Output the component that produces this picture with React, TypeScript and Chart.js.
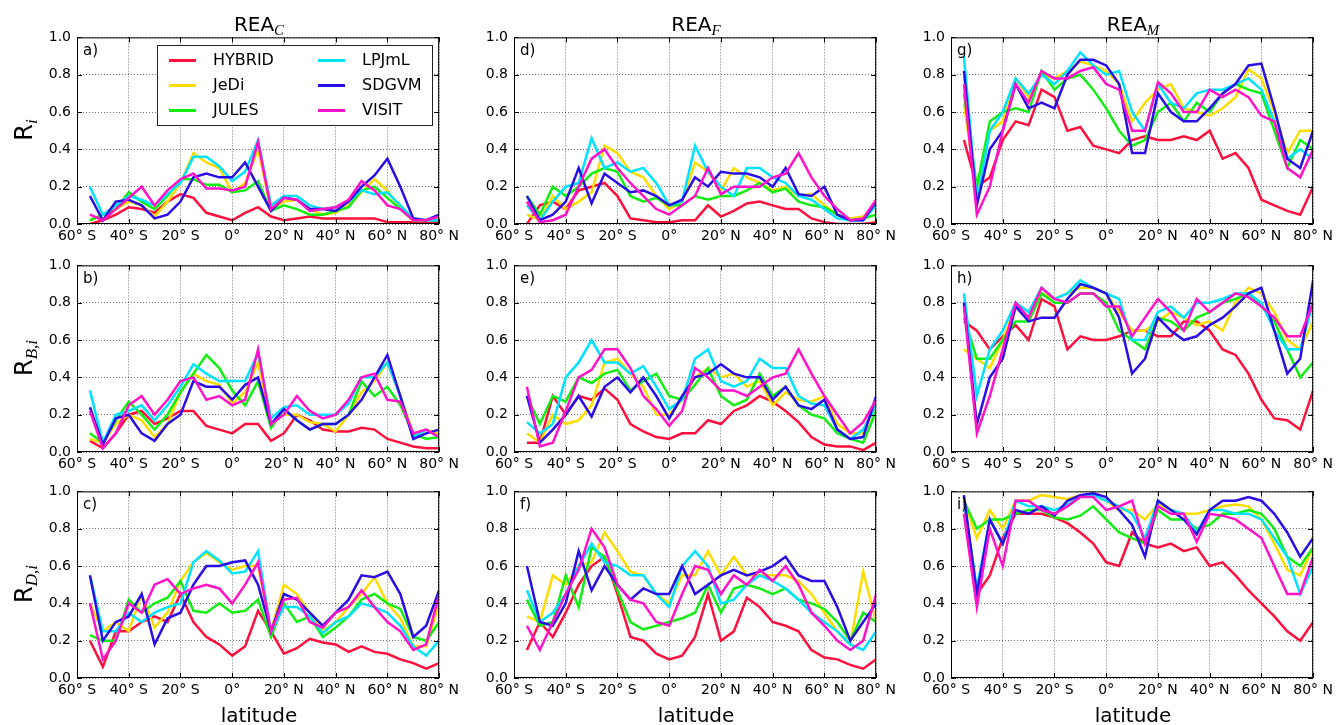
import React, { useEffect, useRef } from "react";
import { Chart, registerables } from "chart.js";

Chart.register(...registerables);

// ---------- data ----------
const latitudes = [-55, -50, -45, -40, -35, -30, -25, -20, -15, -10, -5, 0, 5, 10, 15, 20, 25, 30, 35, 40, 45, 50, 55, 60, 65, 70, 75, 80];
const modelNames = ["HYBRID", "JeDi", "JULES", "LPJmL", "SDGVM", "VISIT"];
const modelColors = ["#ff0f3c", "#ffdc00", "#12ee12", "#00e2ff", "#2a0ee6", "#ff12c8"];
const xTickValues = [-60, -40, -20, 0, 20, 40, 60, 80];
const yTickValues = [0, 0.2, 0.4, 0.6, 0.8, 1.0];
const columnTitleSubs = ["C", "F", "M"];
const rowLabelSubs = ["i", "B,i", "D,i"];
const panelLetters = ["a)", "b)", "c)", "d)", "e)", "f)", "g)", "h)", "i)"];

// panel a
const aHYBRID = [0.0, 0.02, 0.05, 0.09, 0.08, 0.06, 0.12, 0.16, 0.14, 0.06, 0.04, 0.02, 0.06, 0.09, 0.04, 0.02, 0.03, 0.04, 0.03, 0.03, 0.03, 0.03, 0.03, 0.01, 0.01, 0.01, 0.005, 0.01];
const aJeDi = [0.02, 0.05, 0.08, 0.12, 0.1, 0.04, 0.12, 0.22, 0.38, 0.33, 0.3, 0.17, 0.22, 0.4, 0.08, 0.12, 0.13, 0.08, 0.05, 0.06, 0.1, 0.17, 0.24, 0.18, 0.08, 0.02, 0.02, 0.03];
const aJULES = [0.02, 0.05, 0.08, 0.17, 0.12, 0.08, 0.15, 0.24, 0.24, 0.21, 0.21, 0.17, 0.18, 0.23, 0.07, 0.1, 0.08, 0.05, 0.05, 0.07, 0.09, 0.18, 0.2, 0.14, 0.08, 0.02, 0.02, 0.02];
const aLPJmL = [0.2, 0.05, 0.1, 0.15, 0.13, 0.1, 0.16, 0.22, 0.36, 0.36, 0.31, 0.23, 0.28, 0.45, 0.1, 0.15, 0.15, 0.1, 0.08, 0.09, 0.12, 0.18, 0.16, 0.17, 0.1, 0.03, 0.02, 0.02];
const aSDGVM = [0.15, 0.02, 0.12, 0.13, 0.1, 0.03, 0.05, 0.12, 0.25, 0.27, 0.25, 0.25, 0.33, 0.2, 0.07, 0.14, 0.13, 0.08, 0.08, 0.07, 0.12, 0.2, 0.26, 0.35, 0.2, 0.03, 0.02, 0.05];
const aVISIT = [0.05, 0.02, 0.08, 0.14, 0.2, 0.1, 0.18, 0.24, 0.27, 0.19, 0.19, 0.18, 0.2, 0.44, 0.08, 0.14, 0.13, 0.07, 0.08, 0.09, 0.13, 0.23, 0.18, 0.1, 0.08, 0.02, 0.02, 0.04];

// panel b
const bHYBRID = [0.06, 0.02, 0.1, 0.2, 0.22, 0.15, 0.18, 0.22, 0.22, 0.14, 0.12, 0.1, 0.15, 0.15, 0.06, 0.1, 0.2, 0.17, 0.12, 0.11, 0.11, 0.13, 0.12, 0.07, 0.05, 0.03, 0.02, 0.02];
const bJeDi = [0.07, 0.05, 0.15, 0.2, 0.17, 0.08, 0.15, 0.32, 0.42, 0.38, 0.36, 0.26, 0.32, 0.48, 0.15, 0.2, 0.2, 0.16, 0.15, 0.11, 0.2, 0.32, 0.38, 0.48, 0.3, 0.1, 0.12, 0.1];
const bJULES = [0.1, 0.05, 0.17, 0.27, 0.2, 0.12, 0.2, 0.32, 0.42, 0.52, 0.45, 0.33, 0.25, 0.38, 0.13, 0.23, 0.17, 0.12, 0.15, 0.15, 0.2, 0.38, 0.3, 0.35, 0.25, 0.1, 0.07, 0.08];
const bLPJmL = [0.33, 0.05, 0.2, 0.22, 0.25, 0.17, 0.25, 0.35, 0.47, 0.42, 0.38, 0.38, 0.38, 0.53, 0.18, 0.24, 0.25, 0.2, 0.2, 0.2, 0.26, 0.4, 0.4, 0.48, 0.3, 0.08, 0.12, 0.08];
const bSDGVM = [0.24, 0.04, 0.18, 0.2, 0.1, 0.06, 0.15, 0.2, 0.38, 0.35, 0.35, 0.28, 0.36, 0.4, 0.15, 0.23, 0.17, 0.12, 0.15, 0.15, 0.2, 0.28, 0.4, 0.52, 0.3, 0.07, 0.1, 0.12];
const bVISIT = [0.22, 0.02, 0.1, 0.25, 0.3, 0.2, 0.28, 0.38, 0.4, 0.28, 0.3, 0.25, 0.28, 0.55, 0.15, 0.2, 0.3, 0.22, 0.18, 0.2, 0.28, 0.4, 0.42, 0.28, 0.27, 0.1, 0.12, 0.08];

// panel c
const cHYBRID = [0.2, 0.06, 0.25, 0.25, 0.3, 0.33, 0.3, 0.45, 0.3, 0.22, 0.18, 0.12, 0.17, 0.36, 0.25, 0.13, 0.16, 0.21, 0.19, 0.18, 0.14, 0.17, 0.14, 0.13, 0.1, 0.08, 0.05, 0.08];
const cJeDi = [0.4, 0.25, 0.3, 0.25, 0.45, 0.27, 0.35, 0.52, 0.62, 0.67, 0.62, 0.58, 0.6, 0.6, 0.25, 0.5, 0.45, 0.35, 0.25, 0.3, 0.38, 0.45, 0.54, 0.4, 0.32, 0.17, 0.17, 0.4];
const cJULES = [0.23, 0.2, 0.2, 0.42, 0.35, 0.4, 0.43, 0.52, 0.36, 0.35, 0.4, 0.35, 0.36, 0.42, 0.22, 0.4, 0.3, 0.33, 0.22, 0.27, 0.33, 0.42, 0.45, 0.4, 0.37, 0.22, 0.2, 0.3];
const cLPJmL = [0.55, 0.25, 0.25, 0.35, 0.3, 0.35, 0.38, 0.4, 0.62, 0.68, 0.63, 0.56, 0.57, 0.68, 0.25, 0.38, 0.38, 0.33, 0.24, 0.3, 0.33, 0.4, 0.38, 0.35, 0.28, 0.17, 0.12, 0.2];
const cSDGVM = [0.55, 0.2, 0.3, 0.33, 0.45, 0.18, 0.32, 0.35, 0.5, 0.6, 0.6, 0.62, 0.63, 0.5, 0.25, 0.45, 0.42, 0.35, 0.28, 0.35, 0.42, 0.55, 0.54, 0.57, 0.45, 0.22, 0.28, 0.47];
const cVISIT = [0.4, 0.1, 0.2, 0.4, 0.35, 0.5, 0.53, 0.45, 0.48, 0.5, 0.48, 0.4, 0.5, 0.62, 0.25, 0.42, 0.43, 0.3, 0.27, 0.35, 0.38, 0.47, 0.38, 0.3, 0.25, 0.15, 0.18, 0.45];

// panel d
const dHYBRID = [0.0, 0.1, 0.12, 0.08, 0.18, 0.2, 0.22, 0.15, 0.03, 0.02, 0.01, 0.01, 0.02, 0.02, 0.1, 0.04, 0.07, 0.11, 0.12, 0.1, 0.08, 0.08, 0.03, 0.01, 0.0, 0.0, 0.0, 0.01];
const dJeDi = [0.05, 0.02, 0.15, 0.08, 0.12, 0.17, 0.42, 0.38, 0.28, 0.25, 0.15, 0.08, 0.12, 0.33, 0.28, 0.18, 0.3, 0.25, 0.22, 0.18, 0.2, 0.15, 0.16, 0.1, 0.05, 0.03, 0.04, 0.1];
const dJULES = [0.15, 0.05, 0.2, 0.15, 0.2, 0.27, 0.3, 0.28, 0.15, 0.12, 0.14, 0.1, 0.1, 0.15, 0.13, 0.15, 0.15, 0.18, 0.22, 0.17, 0.19, 0.12, 0.1, 0.09, 0.05, 0.02, 0.03, 0.05];
const dLPJmL = [0.1, 0.02, 0.12, 0.2, 0.22, 0.46, 0.3, 0.33, 0.28, 0.3, 0.22, 0.1, 0.12, 0.42, 0.28, 0.2, 0.15, 0.3, 0.3, 0.25, 0.22, 0.15, 0.13, 0.08, 0.03, 0.02, 0.02, 0.1];
const dSDGVM = [0.15, 0.02, 0.05, 0.12, 0.3, 0.11, 0.27, 0.22, 0.17, 0.18, 0.15, 0.1, 0.13, 0.25, 0.2, 0.28, 0.27, 0.27, 0.25, 0.2, 0.3, 0.16, 0.15, 0.2, 0.05, 0.02, 0.02, 0.12];
const dVISIT = [0.12, 0.01, 0.02, 0.05, 0.2, 0.35, 0.4, 0.3, 0.22, 0.15, 0.08, 0.05, 0.1, 0.15, 0.3, 0.16, 0.2, 0.2, 0.2, 0.25, 0.27, 0.38, 0.25, 0.15, 0.08, 0.02, 0.03, 0.13];

// panel e
const eHYBRID = [0.05, 0.05, 0.3, 0.2, 0.3, 0.28, 0.34, 0.28, 0.15, 0.11, 0.08, 0.07, 0.1, 0.1, 0.17, 0.15, 0.22, 0.25, 0.3, 0.27, 0.22, 0.16, 0.08, 0.04, 0.03, 0.03, 0.01, 0.05];
const eJeDi = [0.1, 0.05, 0.2, 0.15, 0.17, 0.25, 0.48, 0.5, 0.42, 0.35, 0.2, 0.2, 0.28, 0.4, 0.45, 0.4, 0.42, 0.35, 0.38, 0.25, 0.32, 0.28, 0.27, 0.3, 0.15, 0.1, 0.1, 0.25];
const eJULES = [0.3, 0.15, 0.3, 0.27, 0.4, 0.37, 0.42, 0.44, 0.33, 0.38, 0.42, 0.3, 0.28, 0.36, 0.45, 0.3, 0.25, 0.28, 0.42, 0.3, 0.35, 0.25, 0.2, 0.18, 0.1, 0.07, 0.05, 0.22];
const eLPJmL = [0.16, 0.1, 0.15, 0.4, 0.48, 0.6, 0.48, 0.48, 0.42, 0.46, 0.35, 0.23, 0.28, 0.5, 0.55, 0.38, 0.35, 0.38, 0.5, 0.45, 0.45, 0.3, 0.26, 0.25, 0.12, 0.07, 0.12, 0.25];
const eSDGVM = [0.3, 0.05, 0.12, 0.2, 0.3, 0.19, 0.35, 0.4, 0.32, 0.4, 0.3, 0.18, 0.3, 0.4, 0.42, 0.47, 0.42, 0.4, 0.4, 0.28, 0.35, 0.25, 0.23, 0.28, 0.12, 0.07, 0.08, 0.3];
const eVISIT = [0.35, 0.03, 0.05, 0.22, 0.4, 0.44, 0.55, 0.55, 0.45, 0.3, 0.23, 0.14, 0.22, 0.45, 0.4, 0.33, 0.33, 0.3, 0.35, 0.4, 0.42, 0.55, 0.42, 0.3, 0.2, 0.1, 0.16, 0.28];

// panel f
const fHYBRID = [0.15, 0.3, 0.22, 0.35, 0.5, 0.6, 0.65, 0.45, 0.22, 0.2, 0.13, 0.1, 0.12, 0.22, 0.45, 0.2, 0.25, 0.43, 0.38, 0.3, 0.28, 0.25, 0.15, 0.11, 0.1, 0.07, 0.05, 0.1];
const fJeDi = [0.33, 0.3, 0.55, 0.5, 0.6, 0.62, 0.78, 0.68, 0.57, 0.55, 0.45, 0.4, 0.55, 0.55, 0.68, 0.55, 0.65, 0.55, 0.55, 0.55, 0.55, 0.52, 0.45, 0.35, 0.25, 0.18, 0.57, 0.3];
const fJULES = [0.42, 0.28, 0.3, 0.55, 0.38, 0.7, 0.65, 0.47, 0.3, 0.26, 0.28, 0.3, 0.32, 0.35, 0.5, 0.35, 0.48, 0.5, 0.48, 0.45, 0.48, 0.42, 0.4, 0.37, 0.3, 0.2, 0.35, 0.3];
const fLPJmL = [0.47, 0.3, 0.35, 0.45, 0.6, 0.72, 0.62, 0.6, 0.55, 0.55, 0.45, 0.38, 0.6, 0.68, 0.6, 0.4, 0.42, 0.5, 0.55, 0.52, 0.48, 0.42, 0.35, 0.3, 0.25, 0.18, 0.15, 0.25];
const fSDGVM = [0.6, 0.3, 0.28, 0.4, 0.68, 0.47, 0.6, 0.5, 0.42, 0.48, 0.45, 0.45, 0.6, 0.45, 0.5, 0.55, 0.58, 0.55, 0.57, 0.6, 0.65, 0.55, 0.52, 0.52, 0.38, 0.2, 0.3, 0.4];
const fVISIT = [0.28, 0.15, 0.3, 0.45, 0.58, 0.8, 0.7, 0.5, 0.42, 0.4, 0.3, 0.28, 0.45, 0.6, 0.58, 0.45, 0.55, 0.5, 0.58, 0.52, 0.6, 0.5, 0.35, 0.28, 0.2, 0.15, 0.2, 0.45];

// panel g
const gHYBRID = [0.45, 0.2, 0.25, 0.45, 0.55, 0.53, 0.72, 0.68, 0.5, 0.52, 0.42, 0.4, 0.38, 0.45, 0.47, 0.45, 0.45, 0.47, 0.45, 0.5, 0.35, 0.38, 0.3, 0.13, 0.1, 0.07, 0.05, 0.2];
const gJeDi = [0.65, 0.15, 0.5, 0.55, 0.78, 0.68, 0.8, 0.78, 0.82, 0.87, 0.85, 0.82, 0.75, 0.55, 0.65, 0.72, 0.75, 0.62, 0.6, 0.58, 0.62, 0.68, 0.83, 0.78, 0.6, 0.38, 0.5, 0.5];
const gJULES = [0.7, 0.2, 0.55, 0.6, 0.62, 0.6, 0.82, 0.72, 0.78, 0.8, 0.72, 0.62, 0.5, 0.42, 0.45, 0.6, 0.65, 0.55, 0.65, 0.6, 0.7, 0.75, 0.72, 0.7, 0.5, 0.3, 0.45, 0.4];
const gLPJmL = [0.9, 0.12, 0.5, 0.6, 0.78, 0.7, 0.8, 0.75, 0.82, 0.92, 0.85, 0.8, 0.82, 0.6, 0.5, 0.75, 0.65, 0.62, 0.7, 0.72, 0.72, 0.75, 0.78, 0.72, 0.55, 0.35, 0.4, 0.35];
const gSDGVM = [0.82, 0.1, 0.4, 0.5, 0.75, 0.62, 0.65, 0.62, 0.8, 0.88, 0.88, 0.85, 0.75, 0.38, 0.38, 0.7, 0.6, 0.55, 0.55, 0.62, 0.7, 0.75, 0.85, 0.86, 0.62, 0.35, 0.3, 0.5];
const gVISIT = [0.75, 0.05, 0.2, 0.5, 0.75, 0.65, 0.82, 0.78, 0.78, 0.82, 0.84, 0.75, 0.72, 0.5, 0.5, 0.76, 0.7, 0.6, 0.6, 0.72, 0.68, 0.72, 0.68, 0.58, 0.55, 0.3, 0.25, 0.4];

// panel h
const hHYBRID = [0.7, 0.65, 0.55, 0.62, 0.68, 0.6, 0.82, 0.78, 0.55, 0.62, 0.6, 0.6, 0.62, 0.65, 0.65, 0.62, 0.62, 0.7, 0.7, 0.65, 0.55, 0.52, 0.42, 0.28, 0.18, 0.17, 0.12, 0.33];
const hJeDi = [0.55, 0.5, 0.45, 0.6, 0.78, 0.72, 0.85, 0.82, 0.85, 0.88, 0.88, 0.85, 0.75, 0.65, 0.65, 0.7, 0.75, 0.72, 0.68, 0.7, 0.65, 0.8, 0.88, 0.85, 0.75, 0.6, 0.55, 0.7];
const hJULES = [0.72, 0.5, 0.5, 0.6, 0.7, 0.7, 0.85, 0.8, 0.8, 0.85, 0.85, 0.8, 0.65, 0.6, 0.55, 0.72, 0.7, 0.65, 0.72, 0.75, 0.8, 0.82, 0.85, 0.78, 0.7, 0.55, 0.4, 0.48];
const hLPJmL = [0.85, 0.3, 0.55, 0.65, 0.8, 0.75, 0.88, 0.82, 0.85, 0.92, 0.88, 0.85, 0.82, 0.6, 0.6, 0.75, 0.78, 0.72, 0.8, 0.8, 0.82, 0.85, 0.85, 0.8, 0.65, 0.55, 0.55, 0.8];
const hSDGVM = [0.8, 0.15, 0.4, 0.5, 0.78, 0.7, 0.72, 0.72, 0.82, 0.9, 0.88, 0.85, 0.72, 0.42, 0.5, 0.72, 0.65, 0.6, 0.62, 0.68, 0.72, 0.78, 0.85, 0.88, 0.65, 0.42, 0.5, 0.92];
const hVISIT = [0.78, 0.1, 0.3, 0.55, 0.8, 0.72, 0.88, 0.82, 0.8, 0.85, 0.85, 0.78, 0.78, 0.62, 0.72, 0.82, 0.75, 0.65, 0.82, 0.75, 0.8, 0.85, 0.83, 0.78, 0.72, 0.62, 0.62, 0.8];

// panel i
const iHYBRID = [0.95, 0.45, 0.55, 0.75, 0.88, 0.88, 0.88, 0.86, 0.83, 0.78, 0.72, 0.62, 0.6, 0.78, 0.72, 0.7, 0.72, 0.68, 0.7, 0.6, 0.62, 0.55, 0.47, 0.4, 0.33, 0.25, 0.2, 0.3];
const iJeDi = [0.95, 0.75, 0.9, 0.8, 0.95, 0.95, 0.98, 0.97, 0.96, 0.98, 0.98, 0.95, 0.9, 0.9, 0.85, 0.93, 0.9, 0.88, 0.88, 0.9, 0.92, 0.93, 0.92, 0.85, 0.72, 0.58, 0.55, 0.7];
const iJULES = [0.95, 0.8, 0.85, 0.85, 0.88, 0.9, 0.9, 0.86, 0.85, 0.87, 0.92, 0.85, 0.78, 0.75, 0.72, 0.9, 0.85, 0.85, 0.8, 0.82, 0.88, 0.88, 0.9, 0.88, 0.8, 0.65, 0.6, 0.7];
const iLPJmL = [0.95, 0.48, 0.85, 0.72, 0.95, 0.92, 0.92, 0.9, 0.93, 0.97, 0.98, 0.95, 0.92, 0.88, 0.75, 0.95, 0.9, 0.88, 0.78, 0.9, 0.9, 0.88, 0.88, 0.85, 0.75, 0.65, 0.45, 0.6];
const iSDGVM = [0.98, 0.45, 0.85, 0.72, 0.9, 0.88, 0.92, 0.87, 0.95, 0.98, 0.99, 0.97, 0.9, 0.82, 0.65, 0.95, 0.9, 0.85, 0.77, 0.9, 0.95, 0.95, 0.97, 0.95, 0.88, 0.78, 0.65, 0.75];
const iVISIT = [0.88, 0.38, 0.8, 0.6, 0.95, 0.95, 0.9, 0.88, 0.92, 0.97, 0.97, 0.9, 0.92, 0.95, 0.72, 0.92, 0.88, 0.88, 0.73, 0.88, 0.87, 0.85, 0.8, 0.75, 0.6, 0.45, 0.45, 0.65];

// panels in column-major order (a,b,c | d,e,f | g,h,i)
const panelSeries = [
  [aHYBRID, aJeDi, aJULES, aLPJmL, aSDGVM, aVISIT],
  [bHYBRID, bJeDi, bJULES, bLPJmL, bSDGVM, bVISIT],
  [cHYBRID, cJeDi, cJULES, cLPJmL, cSDGVM, cVISIT],
  [dHYBRID, dJeDi, dJULES, dLPJmL, dSDGVM, dVISIT],
  [eHYBRID, eJeDi, eJULES, eLPJmL, eSDGVM, eVISIT],
  [fHYBRID, fJeDi, fJULES, fLPJmL, fSDGVM, fVISIT],
  [gHYBRID, gJeDi, gJULES, gLPJmL, gSDGVM, gVISIT],
  [hHYBRID, hJeDi, hJULES, hLPJmL, hSDGVM, hVISIT],
  [iHYBRID, iJeDi, iJULES, iLPJmL, iSDGVM, iVISIT],
];

// ---------- layout ----------
const COL_LEFTS = [77, 514, 951];
const ROW_TOPS = [35, 263, 489];
const PLOT_W = 364;
const PLOT_H = 189;
const Y_AXIS_W = 60;
const X_AXIS_H = 26;
const PAD_TOP = 12;
const PAD_RIGHT = 22;
const CANVAS_W = Y_AXIS_W + PLOT_W + PAD_RIGHT;
const CANVAS_H = PAD_TOP + PLOT_H + X_AXIS_H;
const FONT = '"DejaVu Sans", "Bitstream Vera Sans", sans-serif';
const MATH_FONT = '"Liberation Serif", "DejaVu Serif", serif';

const fmtLat = (v: number) => {
  const n = Number(v);
  if (n === 0) return "0°";
  return `${Math.abs(n)}° ${n < 0 ? "S" : "N"}`;
};

const framePlugin = {
  id: "panelFrame",
  afterDraw(chart: any, _args: any, opts: any) {
    const { ctx, chartArea } = chart;
    const { left, right, top, bottom } = chartArea;
    const xs = chart.scales.x;
    const ys = chart.scales.y;
    ctx.save();
    ctx.strokeStyle = "#000";
    ctx.lineWidth = 1;
    ctx.beginPath();
    ctx.rect(left + 0.5, top + 0.5, right - left - 1, bottom - top - 1);
    ctx.stroke();
    ctx.beginPath();
    for (const v of xTickValues) {
      const px = Math.round(xs.getPixelForValue(v)) + 0.5;
      ctx.moveTo(px, bottom);
      ctx.lineTo(px, bottom - 5);
      ctx.moveTo(px, top);
      ctx.lineTo(px, top + 5);
    }
    for (const v of yTickValues) {
      const py = Math.round(ys.getPixelForValue(v)) + 0.5;
      ctx.moveTo(left, py);
      ctx.lineTo(left + 5, py);
      ctx.moveTo(right, py);
      ctx.lineTo(right - 5, py);
    }
    ctx.stroke();
    if (opts && opts.letter) {
      ctx.fillStyle = "#000";
      ctx.font = `15px ${FONT}`;
      ctx.textAlign = "left";
      ctx.textBaseline = "alphabetic";
      ctx.fillText(opts.letter, left + 6, top + 18);
    }
    ctx.restore();
  },
};

function Panel({ index }: { index: number }) {
  const ref = useRef<HTMLCanvasElement>(null);
  const col = Math.floor(index / 3);
  const row = index % 3;
  const left = COL_LEFTS[col] - Y_AXIS_W;
  const top = ROW_TOPS[row] - PAD_TOP;

  useEffect(() => {
    const series = panelSeries[index];
    const gridOpts = { color: "rgba(0,0,0,0.55)", lineWidth: 1, drawTicks: false };
    const borderOpts = { display: false, dash: [1, 2] };
    const chart = new Chart(ref.current as HTMLCanvasElement, {
      type: "line",
      data: {
        datasets: series.map((vals, i) => ({
          label: modelNames[i],
          data: latitudes.map((lat, j) => ({ x: lat, y: vals[j] })),
          borderColor: modelColors[i],
          backgroundColor: modelColors[i],
          borderWidth: 2.5,
          pointRadius: 0,
          fill: false,
          tension: 0,
          order: modelNames.length - i,
        })),
      },
      options: {
        animation: false,
        responsive: false,
        maintainAspectRatio: false,
        devicePixelRatio: 1,
        events: [],
        layout: { padding: { left: 0, top: PAD_TOP, right: PAD_RIGHT, bottom: 0 } },
        plugins: {
          legend: { display: false },
          tooltip: { enabled: false },
          panelFrame: { letter: panelLetters[index] },
        } as any,
        scales: {
          x: {
            type: "linear",
            min: -60,
            max: 80,
            afterFit: (s: any) => {
              s.height = X_AXIS_H;
            },
            ticks: {
              stepSize: 20,
              callback: (v: any) => fmtLat(v),
              font: { family: FONT, size: 14 },
              color: "#000",
              maxRotation: 0,
              minRotation: 0,
              autoSkip: false,
              padding: 4,
            },
            grid: gridOpts,
            border: borderOpts,
          },
          y: {
            type: "linear",
            min: 0,
            max: 1,
            afterFit: (s: any) => {
              s.width = Y_AXIS_W;
            },
            ticks: {
              stepSize: 0.2,
              callback: (v: any) => Number(v).toFixed(1),
              font: { family: FONT, size: 14 },
              color: "#000",
              padding: 6,
            },
            grid: gridOpts,
            border: borderOpts,
          },
        } as any,
      },
      plugins: [framePlugin],
    });
    return () => chart.destroy();
  }, [index]);

  return (
    <canvas
      ref={ref}
      width={CANVAS_W}
      height={CANVAS_H}
      style={{ position: "absolute", left, top, width: CANVAS_W, height: CANVAS_H }}
    />
  );
}

function Legend() {
  const rowsY = [14, 39, 64];
  const cols = [
    { lineX: 11, textX: 55 },
    { lineX: 160, textX: 204 },
  ];
  return (
    <div
      style={{
        position: "absolute",
        left: 157,
        top: 45,
        width: 276,
        height: 81,
        boxSizing: "border-box",
        border: "1px solid #222",
        background: "#fff",
      }}
    >
      {modelNames.map((name, i) => {
        const c = cols[Math.floor(i / 3)];
        const y = rowsY[i % 3];
        return (
          <React.Fragment key={name}>
            <div
              style={{
                position: "absolute",
                left: c.lineX,
                top: y - 1.5,
                width: 27,
                height: 3,
                background: modelColors[i],
              }}
            />
            <div
              style={{
                position: "absolute",
                left: c.textX,
                top: y - 8,
                fontFamily: FONT,
                fontSize: 16,
                lineHeight: "16px",
                color: "#000",
                whiteSpace: "nowrap",
              }}
            >
              {name}
            </div>
          </React.Fragment>
        );
      })}
    </div>
  );
}

export default function App() {
  const colCenters = COL_LEFTS.map((l) => l + PLOT_W / 2);
  return (
    <div
      style={{
        position: "absolute",
        left: 0,
        top: 0,
        width: 1338,
        height: 725,
        overflow: "hidden",
        background: "#fff",
      }}
    >
      {panelSeries.map((_, i) => (
        <Panel key={i} index={i} />
      ))}
      {colCenters.map((cx, c) => (
        <div
          key={"t" + c}
          style={{
            position: "absolute",
            left: cx,
            top: 14,
            transform: "translateX(-50%)",
            fontFamily: FONT,
            fontSize: 20,
            lineHeight: "20px",
            color: "#000",
            whiteSpace: "nowrap",
          }}
        >
          REA
          <span style={{ fontFamily: MATH_FONT, fontStyle: "italic", fontSize: 15, position: "relative", top: 4 }}>
            {columnTitleSubs[c]}
          </span>
        </div>
      ))}
      {colCenters.map((cx, c) => (
        <div
          key={"x" + c}
          style={{
            position: "absolute",
            left: cx,
            top: 705,
            transform: "translateX(-50%)",
            fontFamily: FONT,
            fontSize: 20,
            lineHeight: "20px",
            color: "#000",
            whiteSpace: "nowrap",
          }}
        >
          latitude
        </div>
      ))}
      {ROW_TOPS.map((t, r) => (
        <div
          key={"y" + r}
          style={{
            position: "absolute",
            left: 25,
            top: t + PLOT_H / 2,
            transform: "translate(-50%, -50%) rotate(-90deg)",
            fontFamily: FONT,
            fontSize: 24,
            lineHeight: "24px",
            color: "#000",
            whiteSpace: "nowrap",
          }}
        >
          R
          <span style={{ fontFamily: MATH_FONT, fontStyle: "italic", fontSize: 17, position: "relative", top: 5 }}>
            {rowLabelSubs[r]}
          </span>
        </div>
      ))}
      <Legend />
    </div>
  );
}
